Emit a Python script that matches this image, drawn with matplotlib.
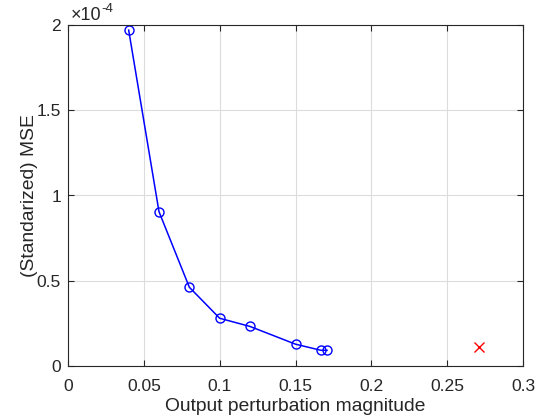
import numpy as np
import matplotlib
matplotlib.use('Agg')
import matplotlib.pyplot as plt
from matplotlib.transforms import offset_copy

plt.rcParams['font.family'] = ['Liberation Sans', 'DejaVu Sans']

# data
magnitude = [0.04, 0.06, 0.08, 0.10, 0.12, 0.15, 0.1668, 0.1708]
mse = [1.97e-4, 0.905e-4, 0.462e-4, 0.28e-4, 0.232e-4, 0.128e-4, 0.092e-4, 0.092e-4]
outlier_x = [0.271]
outlier_y = [0.111e-4]

fig = plt.figure(figsize=(5.46, 4.19), dpi=100)
ax = fig.add_axes([68/546, 1 - 366/419, (523 - 68)/546, (366 - 25)/419])

ax.plot(magnitude, mse, 'b-o', markerfacecolor='none', markersize=6.5, linewidth=1.1, markeredgewidth=1.0)
ax.plot(outlier_x, outlier_y, 'rx', markersize=7, markeredgewidth=1.0)

ax.set_xlim(0, 0.3)
ax.set_ylim(0, 2e-4)
ax.set_xticks(np.arange(0, 0.31, 0.05))
ax.set_xticklabels(['0', '0.05', '0.1', '0.15', '0.2', '0.25', '0.3'])
ax.set_yticks([0, 0.5e-4, 1e-4, 1.5e-4, 2e-4])
ax.set_yticklabels(['0', '0.5', '1', '1.5', '2'])

# MATLAB-style exponent above the y axis
t1 = offset_copy(ax.transAxes, fig=fig, x=3, y=5, units='dots')
ax.text(0, 1.0, '\u00d710', transform=t1, ha='left', va='baseline',
        fontsize=13, color='#262626')
t2 = offset_copy(ax.transAxes, fig=fig, x=33, y=13, units='dots')
ax.text(0, 1.0, '-4', transform=t2, ha='left', va='baseline',
        fontsize=9.5, color='#262626')

ax.grid(True, color='#dcdcdc', linewidth=0.8)
ax.set_axisbelow(True)
ax.tick_params(direction='in', length=4, colors='#262626', labelsize=12.6, top=True, right=True)
ax.tick_params(axis='x', pad=9)
ax.tick_params(axis='y', pad=5)
for s in ax.spines.values():
    s.set_color('#262626')
    s.set_linewidth(0.8)

ax.set_xlabel('Output perturbation magnitude', fontsize=13.9, color='#262626', labelpad=3)
ax.set_ylabel('(Standarized) MSE', fontsize=13.9, color='#262626', labelpad=-1)

fig.savefig('out.png', dpi=100)
